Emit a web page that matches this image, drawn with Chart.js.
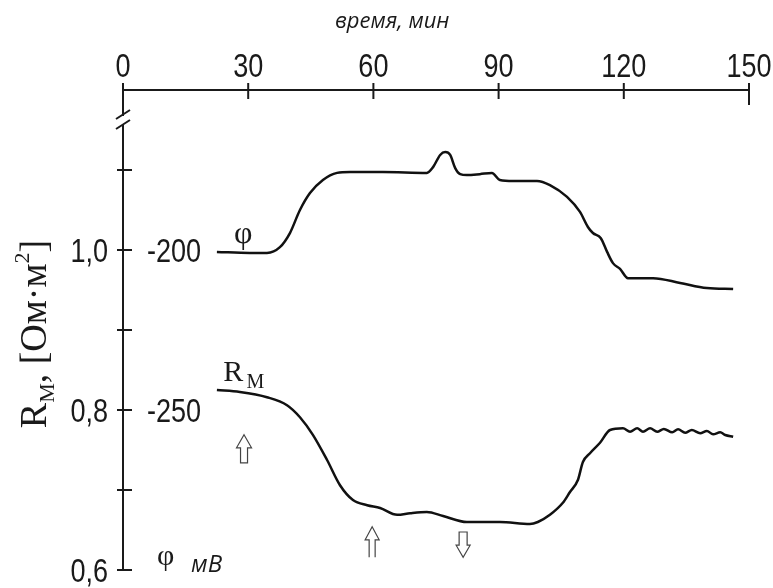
<!DOCTYPE html>
<html>
<head>
<meta charset="utf-8">
<script src="https://cdn.jsdelivr.net/npm/chart.js@4.4.0/dist/chart.umd.min.js"></script>
<style>
  body { margin: 0; background: #fff; }
</style>
</head>
<body>
<canvas id="grafico" width="773" height="588"></canvas>
<script>
// Datos
// Potencial φ (mV) frente al tiempo (min)
var tiempoPhi = [22.5, 30.4, 34.5, 37.6, 40.0, 42.4, 44.8, 47.9, 51.3, 54.4, 62.3, 72.8, 74.3, 76.0, 77.2, 78.4, 79.6, 80.8, 82.4, 85.5, 88.4, 90.3, 93.5, 99.2, 102.3, 106.4, 109.5, 111.4, 112.6, 114.5, 116.0, 117.4, 119.1, 121.0, 127.0, 133.5, 139.9, 146.2];
var valoresPhi = [-200.6, -200.9, -200.9, -199.1, -194.7, -187.5, -182.2, -178.1, -175.9, -175.6, -175.6, -175.9, -174.1, -170.3, -169.4, -170.3, -174.4, -176.3, -176.6, -176.3, -175.9, -178.1, -178.4, -178.4, -179.7, -183.4, -188.1, -192.8, -194.7, -196.3, -200.6, -204.1, -205.9, -208.8, -208.8, -210.3, -211.9, -212.2];

// Resistencia de membrana R_M (Ом·м²) frente al tiempo (min)
var tiempoR = [22.5, 28.0, 34.5, 39.3, 42.4, 45.5, 48.9, 52.0, 55.1, 58.5, 61.6, 65.7, 68.8, 72.8, 76.7, 82.4, 90.3, 97.5, 99.4, 102.3, 105.4, 107.1, 109.0, 110.2, 111.9, 114.3, 116.7, 119.8, 121.5, 123.2, 124.6, 126.3, 128.0, 129.6, 131.6, 133.0, 134.7, 136.3, 138.3, 139.9, 141.4, 143.1, 144.3, 146.2];
var valoresR = [0.825, 0.8225, 0.816, 0.806, 0.791, 0.769, 0.7375, 0.706, 0.6875, 0.681, 0.6775, 0.669, 0.671, 0.6725, 0.6675, 0.660, 0.660, 0.6575, 0.660, 0.669, 0.684, 0.6975, 0.7125, 0.735, 0.746, 0.759, 0.775, 0.7771, 0.7729, 0.7771, 0.7729, 0.7771, 0.7729, 0.7763, 0.7721, 0.7759, 0.7716, 0.7750, 0.7709, 0.7738, 0.7696, 0.7721, 0.7688, 0.7666];

// Ejes
var ticksX = [0, 30, 60, 90, 120, 150];
var marcasY = [0.6, 0.7, 0.8, 0.9, 1.0, 1.1];
var etiquetasY = [1.0, 0.8, 0.6];
var etiquetasPhi = [-200, -250];

// Flechas: minuto y sentido
var flechasT = [29.0, 59.7, 81.5];
var flechasSentido = ['arriba', 'arriba', 'abajo'];

var FUENTE_NUM = '"Liberation Sans Narrow", "Liberation Sans", sans-serif';
var FUENTE_SERIF = '"Liberation Serif", "DejaVu Serif", serif';
var COLOR = '#1a1a1a';

function puntos(xs, ys) {
    return xs.map(function (t, i) { return { x: t, y: ys[i] }; });
}

// Numeros estrechos (la figura usa una letra condensada)
function textoEstrecho(ctx, txt, x, y, align) {
    ctx.save();
    ctx.font = '33px ' + FUENTE_NUM;
    ctx.textBaseline = 'alphabetic';
    ctx.textAlign = align;
    ctx.translate(x, y);
    ctx.scale(0.82, 1);
    ctx.fillText(txt, 0, 0);
    ctx.restore();
}

// Dibuja marcas, textos y flechas sobre la grafica
var decoracion = {
    id: 'decoracion',
    afterDraw: function (chart) {
        var ctx = chart.ctx;
        var sx = chart.scales.x, sy = chart.scales.y, sy2 = chart.scales.y2;
        var x0 = sx.left, y0 = sy.top;
        ctx.save();
        ctx.strokeStyle = COLOR;
        ctx.fillStyle = COLOR;
        ctx.lineWidth = 2;

        // marcas y etiquetas del eje x
        ticksX.forEach(function (t, i) {
            var px = sx.getPixelForValue(t);
            ctx.beginPath();
            ctx.moveTo(px, y0 - 7);
            ctx.lineTo(px, y0 + (i === ticksX.length - 1 ? 15 : 9));
            ctx.stroke();
            textoEstrecho(ctx, String(t), px, y0 - 13, 'center');
        });
        // marcas y etiquetas del eje y
        marcasY.forEach(function (v) {
            var py = sy.getPixelForValue(v);
            ctx.beginPath();
            ctx.moveTo(x0 - 6, py);
            ctx.lineTo(x0 + 9, py);
            ctx.stroke();
        });
        etiquetasY.forEach(function (v) {
            textoEstrecho(ctx, v.toFixed(1).replace('.', ','), x0 - 15, sy.getPixelForValue(v) + 12, 'right');
        });

        // corte del eje y
        var pc = sy.getPixelForValue(1.1625);
        ctx.fillStyle = '#fff';
        ctx.fillRect(x0 - 3, pc - 4, 6, 8);
        ctx.fillStyle = COLOR;
        ctx.beginPath();
        ctx.moveTo(x0 - 7, pc - 1); ctx.lineTo(x0 + 7, pc - 10);
        ctx.moveTo(x0 - 7, pc + 9); ctx.lineTo(x0 + 7, pc);
        ctx.stroke();

        // etiquetas de potencial
        etiquetasPhi.forEach(function (v) {
            textoEstrecho(ctx, String(v), x0 + 24, sy2.getPixelForValue(v) + 12, 'left');
        });

        // nombres de las curvas
        ctx.textAlign = 'center';
        ctx.textBaseline = 'middle';
        ctx.font = '32px ' + FUENTE_SERIF;
        ctx.fillText('φ', sx.getPixelForValue(28.8), sy2.getPixelForValue(-195.3));
        ctx.textAlign = 'left';
        ctx.textBaseline = 'alphabetic';
        ctx.font = '30px ' + FUENTE_SERIF;
        ctx.fillText('R', sx.getPixelForValue(24.0), sy.getPixelForValue(0.836));
        ctx.font = '20px ' + FUENTE_SERIF;
        ctx.fillText('М', sx.getPixelForValue(29.6), sy.getPixelForValue(0.8275));

        // leyenda inferior "φ мВ"
        ctx.font = '30px ' + FUENTE_SERIF;
        ctx.fillText('φ', x0 + 34, sy.getPixelForValue(0.6) - 5);
        ctx.font = 'italic 24px "Open Sans", sans-serif';
        ctx.fillText('мВ', x0 + 68, sy.getPixelForValue(0.6) + 2);

        // titulo del eje x
        ctx.font = 'italic 22px "Open Sans", sans-serif';
        ctx.textAlign = 'center';
        ctx.fillText('время, мин', sx.getPixelForValue(64.5), y0 - 62);

        // titulo del eje y, girado, con subindice y superindice
        var partes = [
            { t: 'R', f: 38, d: 0 },
            { t: 'М', f: 22, d: 8 },
            { t: ', [Ом·м', f: 38, d: 0 },
            { t: '2', f: 22, d: -17 },
            { t: ']', f: 38, d: 0 }
        ];
        var total = 0;
        partes.forEach(function (p) {
            ctx.font = p.f + 'px ' + FUENTE_SERIF;
            p.w = ctx.measureText(p.t).width;
            total += p.w;
        });
        ctx.translate(46, sy.getPixelForValue(0.895));
        ctx.rotate(-Math.PI / 2);
        ctx.textAlign = 'left';
        var cx = -total / 2;
        partes.forEach(function (p) {
            ctx.font = p.f + 'px ' + FUENTE_SERIF;
            ctx.fillText(p.t, cx, p.d);
            cx += p.w;
        });
        ctx.setTransform(1, 0, 0, 1, 0, 0);

        // flechas huecas
        ctx.lineWidth = 1.2;
        ctx.strokeStyle = '#444';
        flechasT.forEach(function (t, i) {
            var px = sx.getPixelForValue(t);
            ctx.beginPath();
            if (i === 0) {
                var a = sy.getPixelForValue(0.769), b = sy.getPixelForValue(0.734);
                ctx.moveTo(px, a); ctx.lineTo(px + 7.5, a + 13); ctx.lineTo(px + 3.5, a + 13);
                ctx.lineTo(px + 3.5, b); ctx.lineTo(px - 3.5, b); ctx.lineTo(px - 3.5, a + 13);
                ctx.lineTo(px - 7.5, a + 13); ctx.closePath();
            } else if (flechasSentido[i] === 'arriba') {
                var a2 = sy.getPixelForValue(0.654), b2 = sy.getPixelForValue(0.616);
                ctx.moveTo(px - 3, b2); ctx.lineTo(px - 3, a2 + 13); ctx.lineTo(px - 7, a2 + 13);
                ctx.lineTo(px, a2); ctx.lineTo(px + 7, a2 + 13); ctx.lineTo(px + 3, a2 + 13);
                ctx.lineTo(px + 3, b2);
            } else {
                var a3 = sy.getPixelForValue(0.6475), b3 = sy.getPixelForValue(0.616);
                ctx.moveTo(px - 4, a3); ctx.lineTo(px + 4, a3); ctx.lineTo(px + 4, b3 - 12);
                ctx.lineTo(px + 7, b3 - 12); ctx.lineTo(px, b3); ctx.lineTo(px - 7, b3 - 12);
                ctx.lineTo(px - 4, b3 - 12); ctx.closePath();
            }
            ctx.stroke();
        });
        ctx.restore();
    }
};

var ctxGrafico = document.getElementById('grafico').getContext('2d');
var grafico = new Chart(ctxGrafico, {
    type: 'line',
    data: {
        datasets: [{
            label: 'φ',
            data: puntos(tiempoPhi, valoresPhi),
            yAxisID: 'y2',
            borderColor: '#111',
            borderWidth: 2.5,
            pointRadius: 0,
            cubicInterpolationMode: 'monotone'
        }, {
            label: 'R_M',
            data: puntos(tiempoR, valoresR),
            yAxisID: 'y',
            borderColor: '#111',
            borderWidth: 2.5,
            pointRadius: 0,
            cubicInterpolationMode: 'monotone'
        }]
    },
    options: {
        responsive: false,
        animation: false,
        layout: { padding: { left: 0, top: 0, right: 24, bottom: 18 } },
        plugins: {
            legend: { display: false },
            tooltip: { enabled: false }
        },
        scales: {
            x: {
                type: 'linear',
                position: 'top',
                min: 0,
                max: 150,
                afterFit: function (scale) { scale.height = 90; },
                grid: { display: false, drawTicks: false },
                border: { display: true, color: COLOR, width: 2 },
                ticks: { display: false, stepSize: 30 }
            },
            y: {
                type: 'linear',
                position: 'left',
                min: 0.6,
                max: 1.2,
                afterFit: function (scale) { scale.width = 123; },
                grid: { display: false, drawTicks: false },
                border: { display: true, color: COLOR, width: 2 },
                ticks: { display: false, stepSize: 0.1 }
            },
            y2: {
                type: 'linear',
                display: false,
                min: -300,
                max: -150
            }
        }
    },
    plugins: [decoracion]
});
</script>
</body>
</html>
